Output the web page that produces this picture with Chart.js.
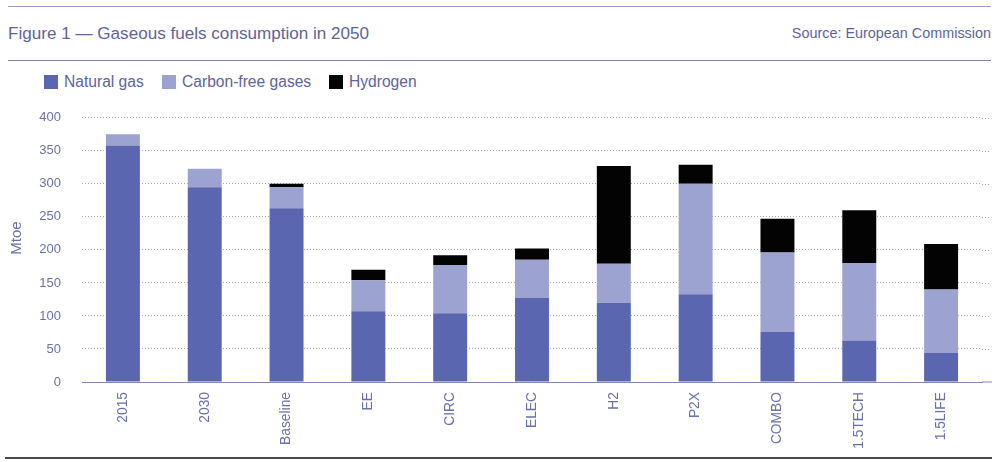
<!DOCTYPE html>
<html>
<head>
<meta charset="utf-8">
<script src="https://cdn.jsdelivr.net/npm/chart.js@4.4.1/dist/chart.umd.min.js"></script>
<style>
  html, body { margin: 0; padding: 0; background: #fff; }
  body { width: 1000px; height: 462px; position: relative; overflow: hidden; font-family: "Liberation Sans", Arial, sans-serif; }
  .rule { position: absolute; left: 8px; width: 983px; height: 0; }
  #title { position: absolute; left: 8px; top: 24px; font-size: 17.1px; color: #5d649a; white-space: nowrap; }
  #source { position: absolute; right: 9px; top: 25px; font-size: 14.4px; color: #5d649a; white-space: nowrap; }
  #legend { position: absolute; left: 44px; top: 73px; font-size: 15.6px; color: #5d649a; white-space: nowrap; }
  .li { position: absolute; top: 0; display: flex; align-items: center; }
  .sw { width: 14px; height: 14px; margin-right: 6px; }
  #wrap { position: absolute; left: 0; top: 89px; width: 1000px; height: 367px; }
</style>
</head>
<body>
<div class="rule" style="top:6px;border-top:1px solid #9aa0c4;"></div>
<div id="title">Figure 1 — Gaseous fuels consumption in 2050</div>
<div id="source">Source: European Commission</div>
<div class="rule" style="top:60px;border-top:1px solid #7d82a0;"></div>
<div id="legend"></div>
<div id="wrap"><canvas id="c"></canvas></div>
<div class="rule" style="top:457px;left:5px;width:987px;border-top:2px solid #4a4a4a;"></div>
<script>
const categories = ["2015", "2030", "Baseline", "EE", "CIRC", "ELEC", "H2", "P2X", "COMBO", "1.5TECH", "1.5LIFE"];
const naturalGas = [358, 295, 263, 107, 104, 127, 120, 133, 76, 63, 44];
const carbonFreeGases = [17, 28, 32, 47, 73, 58, 59, 167, 120, 117, 96];
const hydrogen = [0, 0, 5, 16, 15, 17, 148, 29, 51, 80, 69];
const yTicks = [0, 50, 100, 150, 200, 250, 300, 350, 400];
const yTitle = "Mtoe";

const seriesNames = ["Natural gas", "Carbon-free gases", "Hydrogen"];
const seriesColors = ["#5b66b0", "#9ca3d1", "#030303"];

// HTML legend
const legendEl = document.getElementById('legend');
const legendX = [0, 118, 285];
seriesNames.forEach((n, i) => {
  const d = document.createElement('div');
  d.className = 'li';
  d.style.left = legendX[i] + 'px';
  d.innerHTML = '<span class="sw" style="background:' + seriesColors[i] + '"></span><span>' + n + '</span>';
  legendEl.appendChild(d);
});

const TEXT = '#6a71a6';
const GRID = '#a6a6ae';

const extendPlugin = {
  id: 'extend',
  afterDraw(chart) {
    const {ctx, chartArea, scales} = chart;
    const y = scales.y;
    ctx.save();
    ctx.lineWidth = 1;
    ctx.strokeStyle = GRID;
    ctx.setLineDash([1, 2]);
    y.ticks.forEach(t => {
      if (t.value === 0) return;
      const py = Math.round(y.getPixelForValue(t.value)) + 0.5;
      ctx.beginPath();
      ctx.moveTo(chartArea.right, py);
      ctx.lineTo(990, py);
      ctx.stroke();
    });
    ctx.setLineDash([]);
    ctx.strokeStyle = '#7f89b5';
    const p0 = y.getPixelForValue(0);
    ctx.beginPath();
    ctx.moveTo(chartArea.right, p0);
    ctx.lineTo(992, p0);
    ctx.stroke();
    // y-axis title
    ctx.translate(17, y.getPixelForValue(218));
    ctx.rotate(-Math.PI / 2);
    ctx.fillStyle = TEXT;
    ctx.font = '15px "Liberation Sans", Arial, sans-serif';
    ctx.textAlign = 'center';
    ctx.textBaseline = 'middle';
    ctx.fillText(yTitle, 0, 0);
    ctx.restore();
  }
};

new Chart(document.getElementById('c'), {
  type: 'bar',
  data: {
    labels: categories,
    datasets: [
      { label: seriesNames[0], data: naturalGas, backgroundColor: seriesColors[0] },
      { label: seriesNames[1], data: carbonFreeGases, backgroundColor: seriesColors[1] },
      { label: seriesNames[2], data: hydrogen, backgroundColor: seriesColors[2] }
    ]
  },
  options: {
    responsive: true,
    maintainAspectRatio: false,
    animation: false,
    datasets: { bar: { categoryPercentage: 1, barPercentage: 0.415 } },
    layout: { padding: { top: 6, right: 18, bottom: 0, left: 0 } },
    plugins: { legend: { display: false }, tooltip: { enabled: false } },
    scales: {
      x: {
        stacked: true,
        afterFit(s) { s.height = 74; },
        grid: { display: false },
        border: { display: true, color: '#7f89b5', width: 1 },
        ticks: {
          color: TEXT,
          font: { family: '"Liberation Sans", Arial, sans-serif', size: 13.8 },
          maxRotation: 90, minRotation: 90, padding: 2, autoSkip: false
        }
      },
      y: {
        stacked: true,
        min: 0, max: 400,
        afterFit(s) { s.width = 82; },
        afterBuildTicks(s) { s.ticks = yTicks.map(v => ({ value: v })); },
        border: { display: false, dash: [1, 2] },
        grid: {
          drawTicks: false,
          color: ctx => (ctx.tick && ctx.tick.value === 0) ? 'rgba(0,0,0,0)' : GRID,
          lineWidth: 1
        },
        ticks: {
          color: TEXT,
          padding: 21,
          font: { family: '"Liberation Sans", Arial, sans-serif', size: 13 }
        },
        title: { display: false }
      }
    }
  },
  plugins: [extendPlugin]
});
</script>
</body>
</html>
